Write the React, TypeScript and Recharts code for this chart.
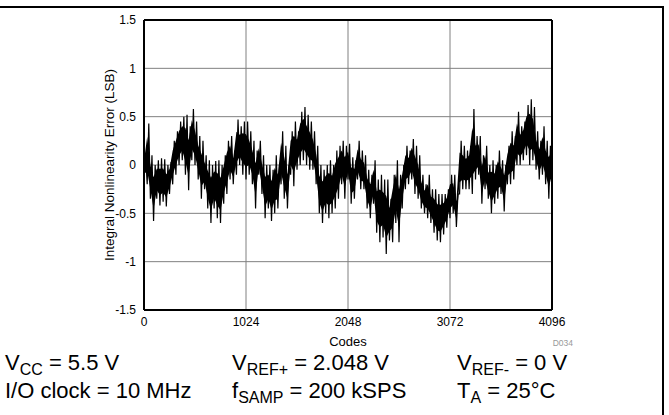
import React from "react";
import { ComposedChart, Line, Area, XAxis, YAxis, CartesianGrid, ReferenceLine } from "recharts";

// Integral nonlinearity: lower / upper excursions every 32 codes
const inlLow: number[] = [
  -0.15, -0.2, -0.35, -0.58, -0.35, -0.42, -0.38, -0.43, -0.3, -0.2,
  -0.1, 0.0, 0.05, -0.1, -0.26, 0.05, 0.0, -0.15, -0.35, -0.25,
  -0.45, -0.6, -0.45, -0.55, -0.6, -0.4, -0.3, -0.15, -0.2, -0.1,
  0.0, -0.1, -0.15, -0.1, -0.2, -0.45, -0.1, -0.3, -0.55, -0.45,
  -0.58, -0.5, -0.45, -0.2, -0.35, -0.45, -0.1, -0.22, -0.05, 0.0,
  0.05, 0.0, -0.05, -0.05, -0.2, -0.5, -0.6, -0.5, -0.55, -0.5,
  -0.45, -0.35, -0.2, -0.35, -0.15, -0.4, -0.35, -0.15, -0.25, -0.25,
  -0.45, -0.55, -0.4, -0.7, -0.8, -0.75, -0.92, -0.78, -0.8, -0.6,
  -0.8, -0.45, -0.25, -0.2, -0.15, -0.3, -0.35, -0.45, -0.5, -0.55,
  -0.6, -0.7, -0.78, -0.8, -0.72, -0.65, -0.55, -0.5, -0.64, -0.3,
  -0.25, -0.25, -0.25, -0.3, -0.15, -0.1, -0.4, -0.25, -0.35, -0.5,
  -0.4, -0.35, -0.3, -0.48, -0.2, -0.2, -0.15, 0.0, 0.0, 0.05,
  0.1, 0.0, 0.05, -0.05, -0.15, -0.1, -0.2, -0.35, -0.2,
];
const inlHigh: number[] = [
  0.1, 0.43, 0.1, 0.0, 0.05, 0.07, 0.06, 0.0, 0.03, 0.25,
  0.35, 0.45, 0.5, 0.52, 0.4, 0.58, 0.45, 0.3, 0.25, 0.1,
  0.05, 0.0, 0.04, 0.05, 0.0, 0.1, 0.25, 0.3, 0.15, 0.47,
  0.4, 0.45, 0.45, 0.35, 0.25, 0.15, 0.25, 0.1, 0.0, 0.0,
  -0.05, 0.1, 0.0, 0.35, 0.2, 0.0, 0.35, 0.45, 0.35, 0.55,
  0.6, 0.52, 0.45, 0.35, 0.2, 0.0, -0.05, 0.0, 0.05, 0.0,
  0.15, 0.2, 0.25, 0.2, 0.22, 0.08, 0.05, 0.25, 0.15, 0.1,
  -0.05, -0.1, 0.05, -0.15, -0.1, -0.15, -0.15, -0.35, -0.1, 0.05,
  -0.1, 0.0, 0.2, 0.15, 0.27, 0.2, 0.1, -0.1, -0.2, -0.1,
  -0.25, -0.25, -0.3, -0.3, -0.3, -0.25, -0.1, -0.1, -0.3, 0.25,
  0.2, 0.15, 0.2, 0.58, 0.3, 0.3, 0.1, 0.2, 0.0, 0.05,
  0.0, 0.15, 0.05, 0.0, 0.2, 0.35, 0.3, 0.55, 0.4, 0.45,
  0.62, 0.68, 0.6, 0.35, 0.25, 0.4, 0.25, 0.2, 0.25,
];
const codeStep = 32;
const xTicks = [0, 1024, 2048, 3072, 4096];
const yTicks = [-1.5, -1, -0.5, 0, 0.5, 1, 1.5];

// solid core of the noise band (inner part between the read excursions)
const coreInset = 0.22;

type Row = { code: number; inl?: number; band?: [number, number] };
const data: Row[] = [];
for (let i = 0; i < inlLow.length; i++) {
  const c = i * codeStep;
  const span = inlHigh[i] - inlLow[i];
  const core: [number, number] = [inlLow[i] + span * coreInset, inlHigh[i] - span * coreInset];
  if (c >= 4096) {
    data.push({ code: 4096, inl: inlLow[i], band: core });
  } else {
    data.push({ code: c, inl: inlLow[i], band: core });
    data.push({ code: c + codeStep / 2, inl: inlHigh[i] });
  }
}

const FONT = "'Liberation Sans', Arial, sans-serif";

function Cond({ x, y, main, sub, rest }: { x: number; y: number; main: string; sub?: string; rest: string }) {
  return (
    <text x={x} y={y} fontFamily={FONT} fontSize={22} fill="#000">
      {main}
      {sub ? (
        <tspan dy={5} fontSize={16}>
          {sub}
        </tspan>
      ) : null}
      <tspan dy={sub ? -5 : 0}>{rest}</tspan>
    </text>
  );
}

export default function App() {
  return (
    <div style={{ position: "absolute", left: 0, top: 0, width: 669, height: 415, background: "#fff" }}>
      <ComposedChart
        width={669}
        height={415}
        data={data}
        margin={{ top: 20, right: 117, bottom: 65, left: 94 }}
      >
        <CartesianGrid stroke="#808080" strokeWidth={1} />
        <XAxis
          dataKey="code"
          type="number"
          domain={[0, 4096]}
          ticks={xTicks}
          tickLine={false}
          tickMargin={1}
          axisLine={{ stroke: "#000", strokeWidth: 2 }}
          tick={{ fontSize: 12, fill: "#000", fontFamily: FONT }}
          height={40}
          label={{ value: "Codes", position: "insideBottom", offset: 4, fontSize: 13, fill: "#000", fontFamily: FONT }}
        />
        <YAxis
          type="number"
          domain={[-1.5, 1.5]}
          ticks={yTicks}
          tickLine={false}
          axisLine={{ stroke: "#000", strokeWidth: 2 }}
          tick={{ fontSize: 12, fill: "#000", fontFamily: FONT }}
          width={50}
          label={{
            value: "Integral Nonlinearity Error (LSB)",
            angle: -90,
            position: "insideLeft",
            offset: 15,
            fontSize: 13.5,
            fill: "#000",
            fontFamily: FONT,
            style: { textAnchor: "middle" },
          }}
        />
        <ReferenceLine y={1.5} stroke="#000" strokeWidth={2} />
        <ReferenceLine x={4096} stroke="#000" strokeWidth={2} />
        <Area
          type="linear"
          dataKey="band"
          stroke="none"
          fill="#000"
          fillOpacity={1}
          connectNulls
          isAnimationActive={false}
        />
        <Line
          type="linear"
          dataKey="inl"
          stroke="#000"
          strokeWidth={1.2}
          dot={false}
          connectNulls
          isAnimationActive={false}
        />
      </ComposedChart>
      <svg width={669} height={415} style={{ position: "absolute", left: 0, top: 0, pointerEvents: "none" }}>
        <line x1={0} y1={7} x2={664} y2={7} stroke="#000" strokeWidth={2} />
        <line x1={663} y1={6} x2={663} y2={415} stroke="#000" strokeWidth={2} />
        <text x={573} y={346} textAnchor="end" fontFamily={FONT} fontSize={8.5} fill="#999">
          D034
        </text>
        <Cond x={5} y={370} main="V" sub="CC" rest=" = 5.5 V" />
        <Cond x={232} y={370} main="V" sub="REF+" rest=" = 2.048 V" />
        <Cond x={457} y={370} main="V" sub="REF-" rest=" = 0 V" />
        <Cond x={5} y={398} main="I/O clock = 10 MHz" rest="" />
        <Cond x={232} y={398} main="f" sub="SAMP" rest=" = 200 kSPS" />
        <Cond x={457} y={398} main="T" sub="A" rest=" = 25°C" />
      </svg>
    </div>
  );
}
